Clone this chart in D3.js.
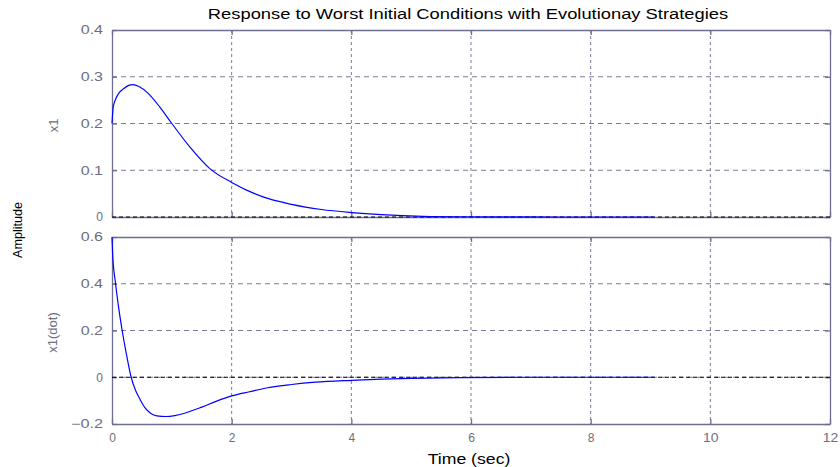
<!DOCTYPE html>
<html><head><meta charset="utf-8">
<script src="https://cdn.jsdelivr.net/npm/d3@7"></script>
<style>body{margin:0;background:#fff}svg{display:block}text{font-family:"Liberation Sans",Arial,sans-serif}</style>
</head><body><svg id="c" width="840" height="467"></svg>
<script>
const titleText = "Response to Worst Initial Conditions with Evolutionay Strategies";
const xLabel = "Time (sec)";
const yLabels = ["x1", "x1(dot)"];
const commonYLabel = "Amplitude";
const xTicks = [0, 2, 4, 6, 8, 10, 12];
const yTicksTop = [0, 0.1, 0.2, 0.3, 0.4];
const yTicksBottom = [-0.2, 0, 0.2, 0.4, 0.6];
const time1 = [0, 0.02, 0.06, 0.12, 0.19, 0.27, 0.35, 0.45, 0.6, 0.8, 1.0, 1.3, 1.64, 2.0, 2.5, 3.0, 3.5, 4.0, 4.5, 5.2, 6.0, 7.0, 8.0, 9.05];
const x1 = [0.20, 0.235, 0.252, 0.266, 0.274, 0.281, 0.283, 0.279, 0.265, 0.235, 0.200, 0.150, 0.103, 0.074, 0.044, 0.027, 0.016, 0.0095, 0.005, 0.0015, 0.0005, 0.0001, 0, 0];
const time2 = [0, 0.01, 0.06, 0.11, 0.17, 0.24, 0.32, 0.40, 0.47, 0.55, 0.65, 0.75, 0.9, 1.05, 1.2, 1.5, 1.75, 2.0, 2.3, 2.6, 3.0, 3.4, 4.0, 4.5, 5.0, 5.8, 7.0, 9.05];
const x1dot = [0.60, 0.53, 0.40, 0.30, 0.20, 0.10, 0.0, -0.06, -0.095, -0.13, -0.155, -0.165, -0.168, -0.164, -0.155, -0.128, -0.102, -0.08, -0.062, -0.045, -0.031, -0.021, -0.013, -0.008, -0.005, -0.002, 0, 0];

const svg = d3.select("#c");
const axisCol = "#6e6e90", gridCol = "#7a7a98", labelCol = "#6e6e80";
const x = d3.scaleLinear().domain([0, 12]).range([112, 830]);
function stretch(sel, perGap) {
  sel.each(function () {
    const n = this.textContent.length;
    if (n < 2) return;
    const w = this.getComputedTextLength();
    d3.select(this).attr("textLength", w + perGap * (n - 1)).attr("lengthAdjust", "spacingAndGlyphs");
  });
}
const panels = [
  {top: 30, bottom: 217, dom: [0, 0.4], ticks: yTicksTop, t: time1, v: x1, lab: yLabels[0], lx: 58},
  {top: 237, bottom: 424, dom: [-0.2, 0.6], ticks: yTicksBottom, t: time2, v: x1dot, lab: yLabels[1], lx: 57}
];
const fmt = d => d === 0 ? "0" : d3.format(".1f")(d);
panels.forEach((p, i) => {
  const y = d3.scaleLinear().domain(p.dom).range([p.bottom, p.top]);
  const g = svg.append("g");
  g.selectAll(".vg").data(xTicks.slice(1, -1)).join("line")
    .attr("x1", d => x(d)).attr("x2", d => x(d)).attr("y1", p.top).attr("y2", p.bottom)
    .attr("stroke", gridCol).attr("stroke-dasharray", "3,3").attr("stroke-width", 1);
  g.selectAll(".hg").data(p.ticks.slice(1, -1)).join("line")
    .attr("x1", 112).attr("x2", 830).attr("y1", d => y(d)).attr("y2", d => y(d))
    .attr("stroke", gridCol).attr("stroke-dasharray", "5,4").attr("stroke-width", 1);
  const ax = g.append("g").attr("transform", `translate(0,${p.bottom})`).call(d3.axisBottom(x).tickValues(xTicks).tickSizeInner(-5).tickSizeOuter(0).tickPadding(9));
  const axT = g.append("g").attr("transform", `translate(0,${p.top})`).call(d3.axisTop(x).tickValues(xTicks).tickSizeInner(-5).tickSizeOuter(0).tickFormat(""));
  const ay = g.append("g").attr("transform", `translate(112,0)`).call(d3.axisLeft(y).tickValues(p.ticks).tickSizeInner(-5).tickSizeOuter(0).tickPadding(9).tickFormat(fmt));
  const ayR = g.append("g").attr("transform", `translate(830,0)`).call(d3.axisRight(y).tickValues(p.ticks).tickSizeInner(-5).tickSizeOuter(0).tickFormat(""));
  [ax, axT, ay, ayR].forEach(a => {
    a.selectAll("path,line").attr("stroke", axisCol).attr("stroke-width", 1.3);
    a.selectAll("text").attr("fill", labelCol).attr("font-size", 12).attr("font-family", "Liberation Sans, Arial, sans-serif");
  });
  if (i === 0) ax.selectAll("text").remove();
  stretch(ax.selectAll("text"), 2.2);
  stretch(ay.selectAll("text"), 2.8);
  g.append("line").attr("x1", 112).attr("x2", 830).attr("y1", y(0)).attr("y2", y(0))
    .attr("stroke", "#000").attr("stroke-dasharray", "4,3").attr("stroke-width", 1);
  const pts = p.t.map((t, k) => [t, p.v[k]]);
  g.append("path").datum(pts).attr("fill", "none").attr("stroke", "#0000ff").attr("stroke-width", 1.2)
    .attr("d", d3.line().x(d => x(d[0])).y(d => y(d[1])).curve(d3.curveMonotoneX));
  svg.append("text").attr("transform", `translate(${p.lx},${(p.top + p.bottom) / 2 + 2}) rotate(-90)`)
    .attr("text-anchor", "middle").attr("fill", labelCol).attr("font-size", 13).text(p.lab);
});
const tt = svg.append("text").attr("x", 468).attr("y", 19).attr("text-anchor", "middle").attr("font-size", 14).attr("fill", "#000").text(titleText);
stretch(tt, 1.95);
const xl = svg.append("text").attr("x", 469).attr("y", 464).attr("text-anchor", "middle").attr("font-size", 14).attr("fill", "#000").text(xLabel);
stretch(xl, 1.9);
svg.append("text").attr("transform", "translate(22,230) rotate(-90)").attr("text-anchor", "middle").attr("font-size", 13).attr("fill", "#000").attr("textLength", 56).attr("lengthAdjust", "spacingAndGlyphs").text(commonYLabel);
</script></body></html>
